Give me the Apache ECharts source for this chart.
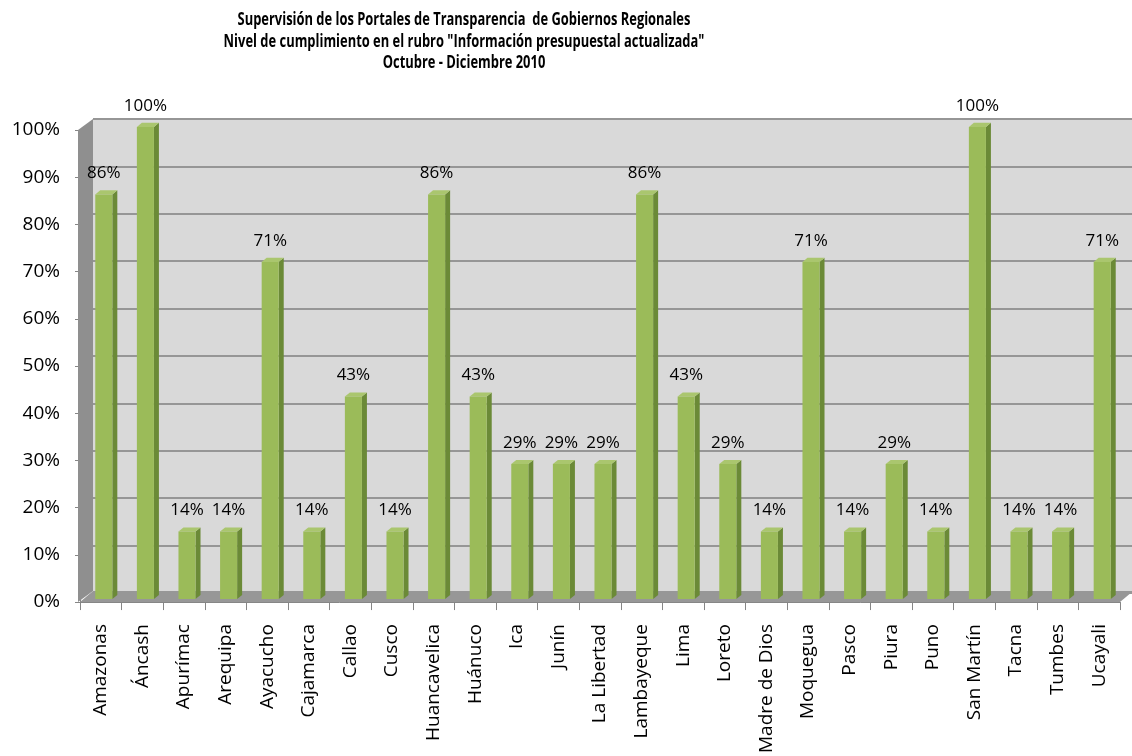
<!DOCTYPE html>
<html>
<head>
<meta charset="utf-8">
<script src="https://cdn.jsdelivr.net/npm/echarts@6/dist/echarts.min.js"></script>
<style>
html,body{margin:0;padding:0;background:#fff;}
#chart{width:1132px;height:756px;}
</style>
</head>
<body>
<div id="chart"></div>
<script>
const titleLines = [
  'Supervisión de los Portales de Transparencia  de Gobiernos Regionales',
  'Nivel de cumplimiento en el rubro "Información presupuestal actualizada"',
  'Octubre - Diciembre 2010'
];
const categories = ['Amazonas','Áncash','Apurímac','Arequipa','Ayacucho','Cajamarca','Callao','Cusco','Huancavelica','Huánuco','Ica','Junín','La Libertad','Lambayeque','Lima','Loreto','Madre de Dios','Moquegua','Pasco','Piura','Puno','San Martín','Tacna','Tumbes','Ucayali'];
const values = [85.7,100,14.3,14.3,71.4,14.3,42.9,14.3,85.7,42.9,28.6,28.6,28.6,85.7,42.9,28.6,14.3,71.4,14.3,28.6,14.3,100,14.3,14.3,71.4];
const yMin = 0, yMax = 100, yInterval = 10;

const FONT = '"Open Sans", sans-serif';
const DEPTH_X = 13, DEPTH_Y = -11;

const chart = echarts.init(document.getElementById('chart'));

function renderWalls(params, api) {
  const c = params.coordSys;
  const x0 = c.x, y0 = c.y, x1 = c.x + c.width, y1 = c.y + c.height;
  return {
    type: 'group',
    children: [
      { type: 'polygon', shape: { points: [[x0 - 2, y0], [x0 + DEPTH_X, y0 + DEPTH_Y], [x0 + DEPTH_X, y1 + DEPTH_Y], [x0 - 2, y1]] },
        style: { fill: '#8f8f8f' } },
      { type: 'polygon', shape: { points: [[x0, y1], [x0 + DEPTH_X, y1 + DEPTH_Y], [x1 + DEPTH_X, y1 + DEPTH_Y], [x1, y1]] },
        style: { fill: '#979797' } }
    ]
  };
}

function renderBar(params, api) {
  const i = api.value(0), v = api.value(1);
  const top = api.coord([i, v]);
  const bot = api.coord([i, 0]);
  const band = api.size([1, 0])[0];
  const fw = band * 0.41;
  const sx = 3, sy = -3;
  const dx = band * 0.12, dy = -band * 0.1;
  const x0 = top[0] - fw / 2 + sx, x1 = x0 + fw;
  const yt = top[1] + sy, yb = bot[1] + sy;
  return {
    type: 'group',
    children: [
      { type: 'polygon', shape: { points: [[x1, yt], [x1 + dx, yt + dy], [x1 + dx, yb + dy], [x1, yb]] },
        style: { fill: '#6b8a37' } },
      { type: 'polygon', shape: { points: [[x0, yt], [x0 + dx, yt + dy], [x1 + dx, yt + dy], [x1, yt]] },
        style: { fill: '#aac66e' } },
      { type: 'rect', shape: { x: x0, y: yt, width: fw, height: yb - yt },
        style: { fill: '#9bbb59' } },
      { type: 'text', x: (x0 + x1) / 2, y: yt - 21,
        style: { text: Math.round(v) + '%', align: 'center', verticalAlign: 'middle',
                 font: '17px ' + FONT, fill: '#000' } }
    ]
  };
}

const titleY = [20, 42, 63];
const option = {
  backgroundColor: '#ffffff',
  animation: false,
  graphic: titleLines.map((t, k) => ({
    type: 'text', x: 464, y: titleY[k], scaleX: 0.76, z: 10,
    style: { text: t, align: 'center', verticalAlign: 'middle',
             font: 'bold 17px ' + FONT, fill: '#000' }
  })),
  grid: [
    { left: 80, right: 12, top: 130, bottom: 152, containLabel: false },
    { left: 93, right: 0, top: 119, bottom: 163, show: true, backgroundColor: '#d9d9d9', borderWidth: 0 }
  ],
  xAxis: [
    { type: 'category', gridIndex: 0, data: categories,
      axisLine: { show: true, lineStyle: { color: '#868686', width: 1 } },
      axisTick: { show: true, length: 8, lineStyle: { color: '#868686' } },
      axisLabel: { rotate: 90, margin: 22, fontFamily: FONT, fontSize: 19, color: '#000', interval: 0 } },
    { type: 'category', gridIndex: 1, data: categories, show: false }
  ],
  yAxis: [
    { type: 'value', gridIndex: 0, min: yMin, max: yMax, interval: yInterval,
      axisLine: { show: true, lineStyle: { color: '#868686' } },
      axisTick: { show: true, length: 5, lineStyle: { color: '#868686' } },
      splitLine: { show: false },
      axisLabel: { formatter: '{value}%', margin: 20, fontFamily: FONT, fontSize: 19, color: '#000' } },
    { type: 'value', gridIndex: 1, min: yMin, max: yMax, interval: yInterval,
      axisLine: { show: false }, axisTick: { show: false }, axisLabel: { show: false },
      splitLine: { show: true, lineStyle: { color: '#969696', width: 2 } } }
  ],
  series: [
    { type: 'custom', xAxisIndex: 0, yAxisIndex: 0, data: [[0, 0]], renderItem: renderWalls, silent: true, z: 1 },
    { type: 'custom', xAxisIndex: 0, yAxisIndex: 0, z: 3,
      data: values.map((v, i) => [i, v]), encode: { x: 0, y: 1 }, renderItem: renderBar }
  ]
};
chart.setOption(option);
</script>
</body>
</html>
